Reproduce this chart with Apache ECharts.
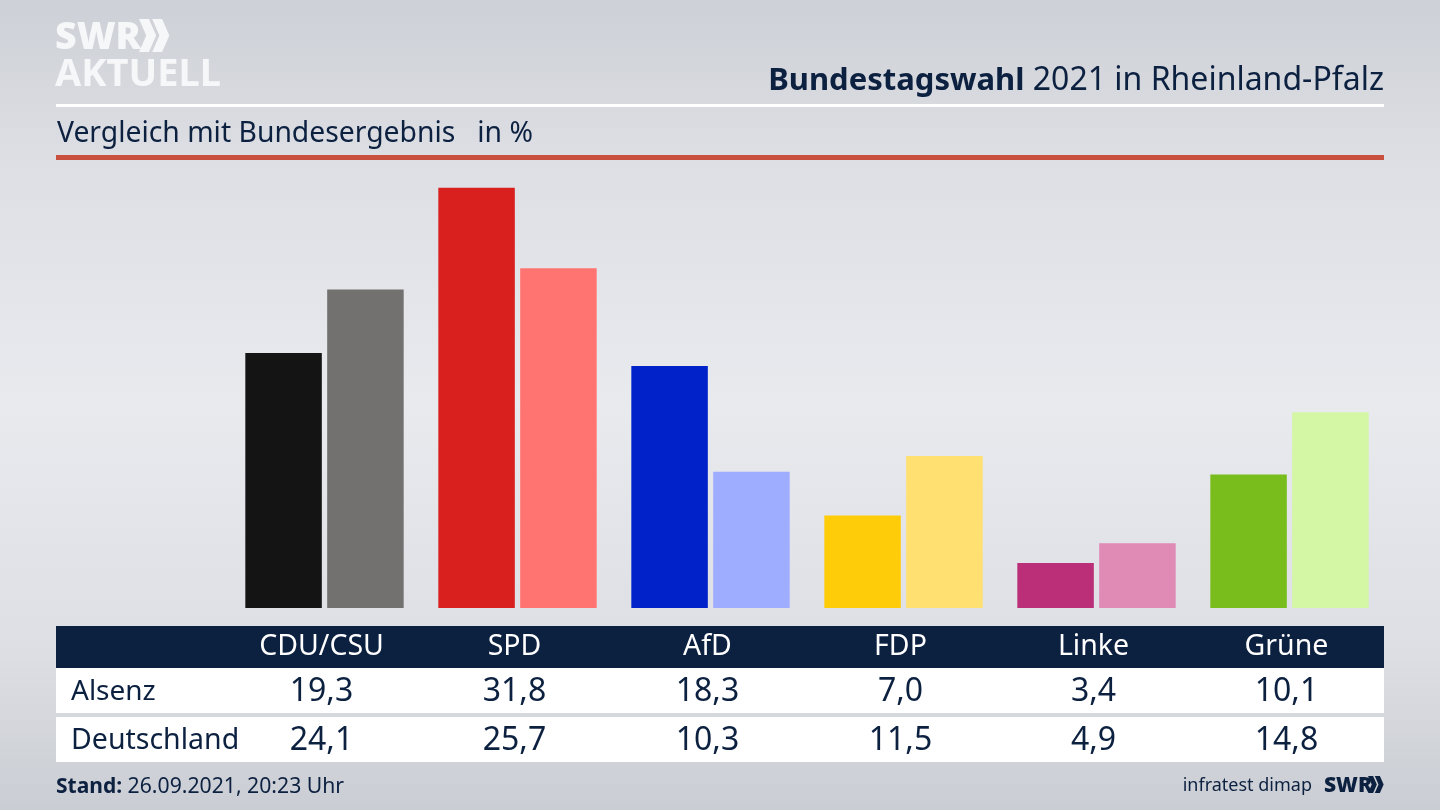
<!DOCTYPE html>
<html>
<head>
    <meta charset="utf-8">
    <title>Bundestagswahl 2021 in Rheinland-Pfalz</title>
    <script src="https://cdn.jsdelivr.net/npm/echarts@6/dist/echarts.min.js"></script>
    <style>
        html, body { margin: 0; padding: 0; }
        #main { width: 1440px; height: 810px; }
    </style>
</head>
<body>
    <div id="main"></div>
    <script>
        // data
        var categories = ['CDU/CSU', 'SPD', 'AfD', 'FDP', 'Linke', 'Grüne'];
        var alsenz = [19.3, 31.8, 18.3, 7.0, 3.4, 10.1];
        var deutschland = [24.1, 25.7, 10.3, 11.5, 4.9, 14.8];
        var alsenzColors = ['#141414', '#d9201f', '#0022c8', '#ffcc0a', '#bb2e78', '#79bd1d'];
        var deutschlandColors = ['#72716f', '#ff7470', '#9eadff', '#ffe070', '#e08ab6', '#d3f7a5'];

        var navy = '#0c2040';
        var font = '"Noto Sans", "Open Sans", sans-serif';

        function fmt(v) {
            return v.toFixed(1).replace('.', ',');
        }

        function text(x, y, str, size, align, color, weight) {
            return {
                type: 'text', x: x, y: y, z: 10,
                style: {
                    text: str, fontFamily: font, fontSize: size, fontWeight: weight || 'normal',
                    fill: color || navy, align: align || 'left', verticalAlign: 'middle'
                }
            };
        }

        function rect(x, y, w, h, color) {
            return { type: 'rect', z: 1, shape: { x: x, y: y, width: w, height: h }, style: { fill: color } };
        }

        // double chevron of the logo
        function chevrons(x, y, h, color) {
            var w = h * 0.22;
            var t = h * 0.3;
            return [0, 1].map(function (i) {
                var o = x + i * h * 0.4;
                return {
                    type: 'polygon', z: 10,
                    shape: { points: [[o, y], [o + t, y], [o + t + w, y + h / 2], [o + t, y + h], [o, y + h], [o + w, y + h / 2]] },
                    style: { fill: color }
                };
            });
        }

        var myChart = echarts.init(document.getElementById('main'), null, { renderer: 'canvas' });

        var option = {
            animation: false,
            backgroundColor: {
                type: 'linear', x: 0, y: 0, x2: 0, y2: 1,
                colorStops: [
                    { offset: 0, color: '#cdd0d6' },
                    { offset: 0.2, color: '#dddfe4' },
                    { offset: 0.5, color: '#e8eaee' },
                    { offset: 0.8, color: '#dddfe4' },
                    { offset: 1, color: '#cacdd3' }
                ]
            },
            grid: { left: 228, width: 1158, top: 185, height: 423 },
            xAxis: {
                type: 'category',
                z: 5,
                data: categories,
                axisLine: { show: false },
                axisTick: { show: false },
                axisLabel: {
                    color: '#ffffff', fontFamily: font, fontSize: 28.5, margin: 21,
                    verticalAlign: 'top', lineHeight: 36, interval: 0, padding: [0, 6, 0, 0]
                }
            },
            yAxis: { type: 'value', min: 0, max: 32, show: false },
            series: [
                {
                    name: 'Alsenz', type: 'bar', barWidth: 76.5, barGap: '7%', data: alsenz,
                    itemStyle: { color: function (p) { return alsenzColors[p.dataIndex]; } }
                },
                {
                    name: 'Deutschland', type: 'bar', barWidth: 76.5, data: deutschland,
                    itemStyle: { color: function (p) { return deutschlandColors[p.dataIndex]; } }
                }
            ]
        };
        myChart.setOption(option);

        // table rows are placed under the category centres
        var rows = [rect(56, 626, 1328, 42, navy), rect(56, 668, 1328, 45, '#ffffff'), rect(56, 717, 1328, 45, '#ffffff')];
        rows.push(text(71, 692, 'Alsenz', 28));
        rows.push(text(71, 741, 'Deutschland', 28.5));
        categories.forEach(function (c, i) {
            var x = myChart.convertToPixel({ xAxisIndex: 0 }, i) - 3;
            rows.push(text(x, 692, fmt(alsenz[i]), 32, 'center'));
            rows.push(text(x, 741, fmt(deutschland[i]), 32, 'center'));
        });

        var head = [
            rect(56, 104, 1328, 3, '#ffffff'),
            rect(56, 155, 1328, 5, '#c8503c'),
            text(55, 38, 'SWR', 37.5, 'left', '#f6f7f8', 900),
            text(55, 75, 'AKTUELL', 38, 'left', '#f6f7f8', 'bold'),
            text(57, 134, 'Vergleich mit Bundesergebnis   in %', 28.3),
            {
                type: 'text', x: 1384, y: 81, z: 10,
                style: {
                    text: '{b|Bundestagswahl} 2021 in Rheinland-Pfalz',
                    fontFamily: font, fontSize: 32, fill: navy, align: 'right', verticalAlign: 'middle',
                    rich: { b: { fontFamily: font, fontSize: 31, fontWeight: 'bold', fill: navy } }
                }
            },
            {
                type: 'text', x: 56, y: 787, z: 10,
                style: {
                    text: '{b|Stand:} 26.09.2021, 20:23 Uhr',
                    fontFamily: font, fontSize: 21.2, fill: navy, align: 'left', verticalAlign: 'middle',
                    rich: { b: { fontFamily: font, fontSize: 21, fontWeight: 'bold', fill: navy } }
                }
            },
            text(1312, 786, 'infratest dimap', 18, 'right'),
            text(1324, 786, 'SWR', 21, 'left', navy, 900)
        ];

        myChart.setOption({
            graphic: head.concat(rows, chevrons(139, 19, 33, '#f6f7f8'), chevrons(1368, 776, 17, navy))
        });
    </script>
</body>
</html>
